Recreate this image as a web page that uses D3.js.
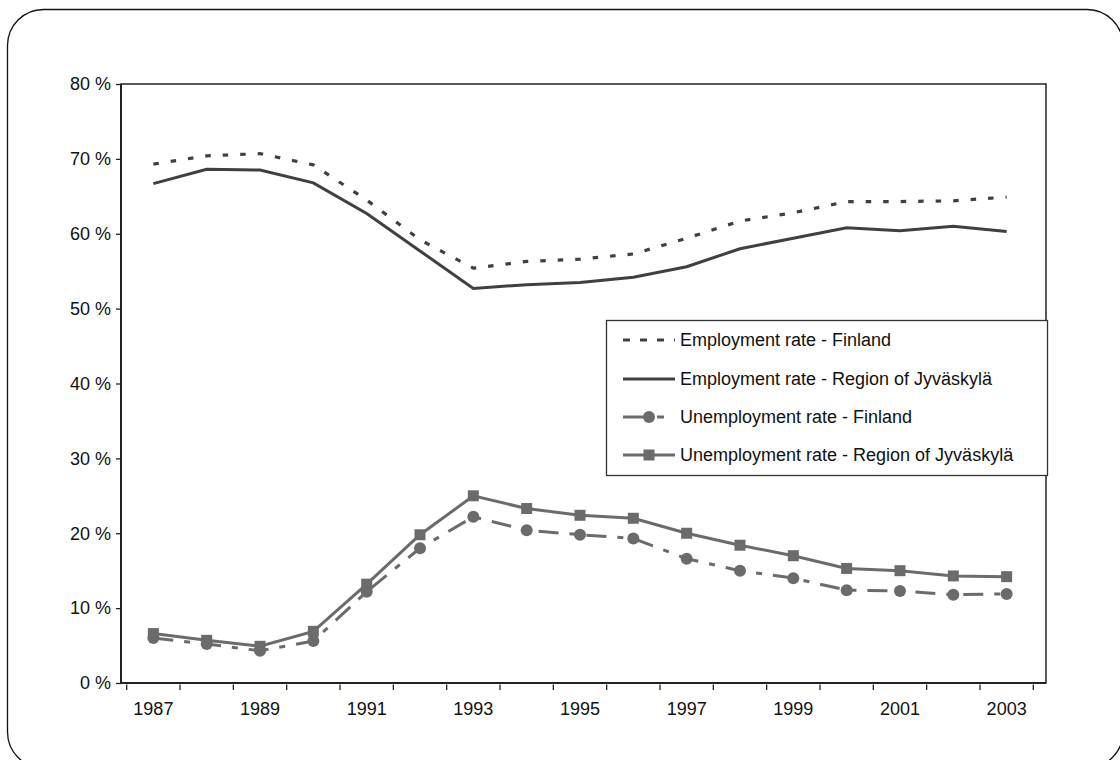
<!DOCTYPE html>
<html>
<head>
<meta charset="utf-8">
<script src="https://cdn.jsdelivr.net/npm/d3@7/dist/d3.min.js"></script>
<style>
  body { margin: 0; background: #fff; }
  text { font-family: Arial, "Liberation Sans", sans-serif; fill: #111; }
</style>
</head>
<body>
<div id="chart"></div>
<script>
// data (percent)
var years = [1987, 1988, 1989, 1990, 1991, 1992, 1993, 1994, 1995, 1996, 1997, 1998, 1999, 2000, 2001, 2002, 2003];
var empFinland = [69.3, 70.4, 70.7, 69.2, 64.5, 59.2, 55.4, 56.3, 56.6, 57.3, 59.4, 61.7, 62.8, 64.3, 64.3, 64.4, 64.9];
var empJyvaskyla = [66.7, 68.6, 68.5, 66.8, 62.7, 57.7, 52.7, 53.2, 53.5, 54.2, 55.6, 58.0, 59.4, 60.8, 60.4, 61.0, 60.3];
var unempFinland = [6.0, 5.2, 4.3, 5.6, 12.2, 18.0, 22.2, 20.4, 19.8, 19.3, 16.6, 15.0, 14.0, 12.4, 12.3, 11.8, 11.9];
var unempJyvaskyla = [6.6, 5.7, 4.9, 6.9, 13.2, 19.8, 25.0, 23.3, 22.4, 22.0, 20.0, 18.4, 17.0, 15.3, 15.0, 14.3, 14.2];
var yTicks = [0, 10, 20, 30, 40, 50, 60, 70, 80];
var labelYears = [1987, 1989, 1991, 1993, 1995, 1997, 1999, 2001, 2003];

var seriesNames = [
  "Employment rate - Finland",
  "Employment rate - Region of Jyväskylä",
  "Unemployment rate - Finland",
  "Unemployment rate - Region of Jyväskylä"
];

var W = 1120, H = 760;
var plot = { left: 121, top: 84, right: 1046, bottom: 683 };

var darkGrey = "#404040", midGrey = "#6b6b6b";

var svg = d3.select("#chart").append("svg")
  .attr("width", W)
  .attr("height", H);

// rounded outer frame (runs off the bottom right corner)
svg.append("rect")
  .attr("x", 7.5).attr("y", 9.5)
  .attr("width", 1115.5).attr("height", 758.5)
  .attr("rx", 36).attr("ry", 36)
  .attr("fill", "none")
  .attr("stroke", "#111")
  .attr("stroke-width", 1.3);

var x = d3.scaleBand().domain(years).range([126.7, 1033.3]);
var y = d3.scaleLinear().domain([0, 80]).range([plot.bottom, plot.top]);
var cx = function(d) { return x(d) + x.bandwidth() / 2; };

// plot frame
svg.append("rect")
  .attr("x", plot.left).attr("y", plot.top)
  .attr("width", plot.right - plot.left)
  .attr("height", plot.bottom - plot.top)
  .attr("fill", "none")
  .attr("stroke", "#222")
  .attr("stroke-width", 1.5);
svg.append("line")
  .attr("x1", plot.left).attr("x2", plot.left)
  .attr("y1", plot.top).attr("y2", plot.bottom)
  .attr("stroke", "#222").attr("stroke-width", 2);
svg.append("line")
  .attr("x1", plot.left).attr("x2", plot.right)
  .attr("y1", plot.bottom).attr("y2", plot.bottom)
  .attr("stroke", "#222").attr("stroke-width", 2);

// y axis
var yAxis = svg.append("g")
  .attr("transform", "translate(" + plot.left + ",0)")
  .call(d3.axisLeft(y).tickValues(yTicks).tickSize(5).tickPadding(5)
    .tickFormat(function(d) { return d + " %"; }));
yAxis.select(".domain").remove();
yAxis.selectAll("line").attr("stroke", "#222").attr("stroke-width", 1.3);
yAxis.selectAll("text").style("font-size", "18px").attr("fill", "#111");

// x axis: ticks on the category borders, labels on every other year
var borders = years.map(function(d) { return x(d); }).concat([x.range()[1]]);
svg.append("g").selectAll("line")
  .data(borders)
  .enter().append("line")
  .attr("x1", function(d) { return d; })
  .attr("x2", function(d) { return d; })
  .attr("y1", plot.bottom + 1.5)
  .attr("y2", plot.bottom + 7)
  .attr("stroke", "#222")
  .attr("stroke-width", 1.3);

var xAxis = svg.append("g")
  .attr("transform", "translate(0," + (plot.bottom + 7) + ")")
  .call(d3.axisBottom(x).tickValues(labelYears).tickSize(0).tickPadding(12));
xAxis.select(".domain").remove();
xAxis.selectAll("text").style("font-size", "18px").attr("fill", "#111");

var line = d3.line()
  .x(function(d, i) { return cx(years[i]); })
  .y(function(d) { return y(d); });

// employment lines
svg.append("path")
  .datum(empFinland)
  .attr("d", line)
  .attr("fill", "none")
  .attr("stroke", darkGrey)
  .attr("stroke-width", 3.2)
  .attr("stroke-dasharray", "5.5,12");

svg.append("path")
  .datum(empJyvaskyla)
  .attr("d", line)
  .attr("fill", "none")
  .attr("stroke", darkGrey)
  .attr("stroke-width", 3);

// unemployment lines
svg.append("path")
  .datum(unempFinland)
  .attr("d", line)
  .attr("fill", "none")
  .attr("stroke", midGrey)
  .attr("stroke-width", 3)
  .attr("stroke-dasharray", "20,11,6,11");

svg.append("path")
  .datum(unempJyvaskyla)
  .attr("d", line)
  .attr("fill", "none")
  .attr("stroke", midGrey)
  .attr("stroke-width", 3);

svg.append("g").selectAll("rect")
  .data(unempJyvaskyla)
  .enter().append("rect")
  .attr("x", function(d, i) { return cx(years[i]) - 5.5; })
  .attr("y", function(d) { return y(d) - 5.5; })
  .attr("width", 11).attr("height", 11)
  .attr("fill", midGrey);

svg.append("g").selectAll("circle")
  .data(unempFinland)
  .enter().append("circle")
  .attr("cx", function(d, i) { return cx(years[i]); })
  .attr("cy", function(d) { return y(d); })
  .attr("r", 6)
  .attr("fill", midGrey);

// legend
var legend = svg.append("g");
legend.append("rect")
  .attr("x", 606.5).attr("y", 320.5)
  .attr("width", 441).attr("height", 155)
  .attr("fill", "#fff")
  .attr("stroke", "#333")
  .attr("stroke-width", 1.3);

var rowY = [340, 379, 417, 455];
var sx1 = 623, sx2 = 675, smid = 649;

legend.append("line")
  .attr("x1", sx1).attr("x2", sx2).attr("y1", rowY[0]).attr("y2", rowY[0])
  .attr("stroke", darkGrey).attr("stroke-width", 3.2).attr("stroke-dasharray", "7,10");
legend.append("line")
  .attr("x1", sx1).attr("x2", sx2).attr("y1", rowY[1]).attr("y2", rowY[1])
  .attr("stroke", darkGrey).attr("stroke-width", 3);
legend.append("line")
  .attr("x1", sx1).attr("x2", sx2).attr("y1", rowY[2]).attr("y2", rowY[2])
  .attr("stroke", midGrey).attr("stroke-width", 3).attr("stroke-dasharray", "22,12,7,20");
legend.append("circle")
  .attr("cx", smid).attr("cy", rowY[2]).attr("r", 6).attr("fill", midGrey);
legend.append("line")
  .attr("x1", sx1).attr("x2", sx2).attr("y1", rowY[3]).attr("y2", rowY[3])
  .attr("stroke", midGrey).attr("stroke-width", 3);
legend.append("rect")
  .attr("x", smid - 5.5).attr("y", rowY[3] - 5.5)
  .attr("width", 11).attr("height", 11).attr("fill", midGrey);

legend.selectAll("text.lbl")
  .data(seriesNames)
  .enter().append("text")
  .attr("class", "lbl")
  .attr("x", 680)
  .attr("y", function(d, i) { return rowY[i]; })
  .attr("dy", "0.35em")
  .style("font-size", "18px")
  .text(function(d) { return d; });
</script>
</body>
</html>
